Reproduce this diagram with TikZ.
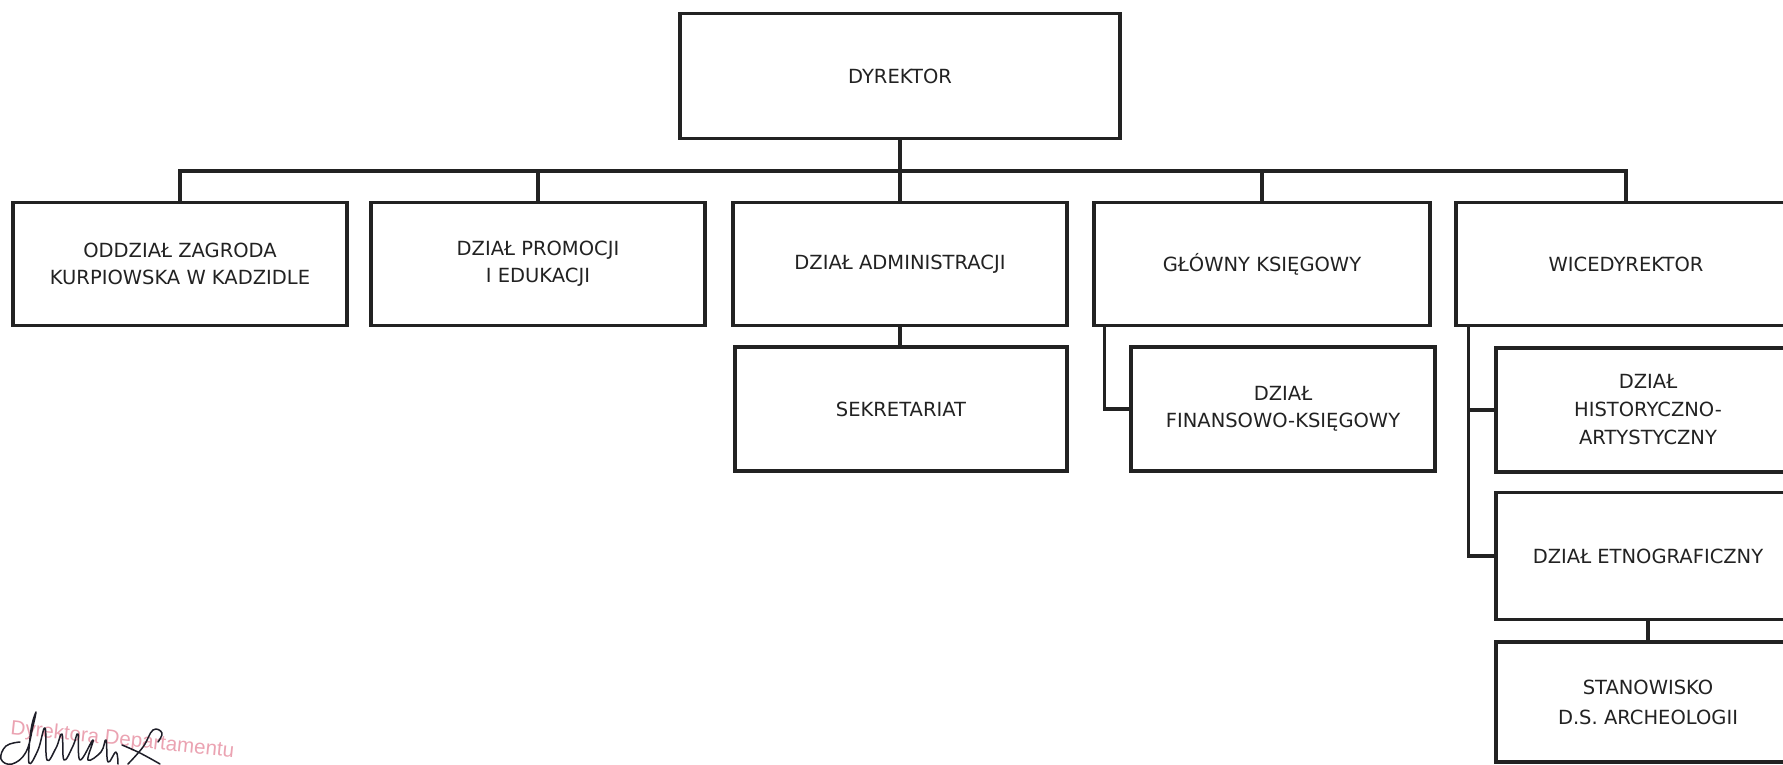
\documentclass[tikz,border=0pt]{standalone}
\usepackage{fontspec}
\setmainfont{DejaVu Sans}
\newfontfamily\stampfont{Liberation Sans}
\definecolor{ink}{HTML}{222222}
\definecolor{stamp}{HTML}{EBA3B2}
\definecolor{pen}{HTML}{1E1E28}
\begin{document}
\begin{tikzpicture}[x=1pt,y=-1pt,
  box/.style={draw=ink, line width=3.5pt, minimum width=334pt, minimum height=123pt,
    align=center, inner sep=0pt, text=ink, font=\fontsize{19.5}{27}\selectfont},
  rbox/.style={box, minimum width=304pt, font=\fontsize{19.5}{28}\selectfont},
  conn/.style={draw=ink, line width=3.5pt, line join=miter},
  sig/.style={draw=pen, line width=1.5pt, line cap=round, line join=round}]
\clip (0,0) rectangle (1783,765);
\fill[white] (0,0) rectangle (1783,765);
% top
\node[box, minimum width=440pt, minimum height=125pt] (dyr) at (900,76) {DYREKTOR};
% row 1
\node[box] (b1) at (180,264) {ODDZIAŁ ZAGRODA\\KURPIOWSKA W KADZIDLE};
\node[box] (b2) at (538,264) {DZIAŁ PROMOCJI\\I EDUKACJI};
\node[box] (b3) at (900,264) {DZIAŁ ADMINISTRACJI};
\node[box, minimum width=336pt] (b4) at (1262,264) {GŁÓWNY KSIĘGOWY};
\node[box, minimum width=340pt] (b5) at (1626,264) {WICEDYREKTOR};
% row 2
\node[box, minimum width=332pt, minimum height=124pt] (sek) at (901,409) {SEKRETARIAT};
\node[box, minimum width=304pt, minimum height=124pt] (fin) at (1283,409) {DZIAŁ\\FINANSOWO-KSIĘGOWY};
% right column
\node[rbox, minimum height=124pt] (hist) at (1648,410) {DZIAŁ\\HISTORYCZNO-\\ARTYSTYCZNY};
\node[rbox, minimum height=127pt] (etno) at (1648,556) {DZIAŁ ETNOGRAFICZNY};
\node[rbox, minimum height=120pt, font=\fontsize{19.5}{30}\selectfont] (stan) at (1648,702) {STANOWISKO\\D.S. ARCHEOLOGII};
% connectors
\coordinate (bus) at (900,171);
\draw[conn] (dyr.south) -- (dyr.south |- b3.north);
\draw[conn] (b1.north) |- (bus) -| (b5.north);
\draw[conn] (b2.north) -- (b2.north |- bus);
\draw[conn] (b4.north) -- (b4.north |- bus);
\draw[conn] (b3.south) -- (b3.south |- sek.north);
\coordinate (ftrunk) at ([xshift=12pt]b4.south west);
\draw[conn] (ftrunk) |- (fin.west);
\coordinate (wtrunk) at ([xshift=14pt]b5.south west);
\draw[conn] (wtrunk) |- (etno.west);
\draw[conn] (hist.west -| wtrunk) -- (hist.west);
\draw[conn] (etno.south) -- (etno.south |- stan.north);
% stamp and signature
\node[anchor=base west, rotate=-6, text=stamp, font=\stampfont\fontsize{20.5}{24}\selectfont, inner sep=0pt] (stp) at (10,734) {Dyrektora Departamentu};
\draw[sig] plot[smooth, tension=0.7] coordinates
  {(20,742) (6,746) (1,759) (12,764) (26,752) (33,726) (36,712) (31,730) (29,763)
   (38,750) (45,728) (47,760) (56,748) (62,734) (64,760) (73,746) (78,734) (80,760)
   (93,740) (88,760) (101,752) (106,740) (108,762) (116,752) (118,764)};
\draw[sig] plot[smooth, tension=0.7] coordinates {(122,745) (140,753) (160,764)};
\draw[sig] plot[smooth, tension=0.7] coordinates {(128,764) (143,747) (153,730) (162,733) (158,742)};
\end{tikzpicture}
\end{document}
